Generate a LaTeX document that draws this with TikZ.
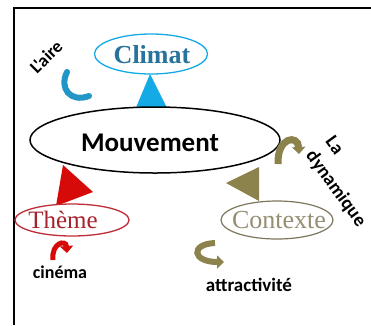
\documentclass[tikz,border=0pt]{standalone}
\usepackage{fontspec}
\setmainfont{Liberation Serif}
\newfontfamily\calfont{Carlito}
\usetikzlibrary{shapes.geometric,arrows.meta}
\definecolor{cblue}{RGB}{20,170,230}
\definecolor{cbluetext}{RGB}{40,115,155}
\definecolor{chook}{RGB}{35,150,200}
\definecolor{cred}{RGB}{215,10,10}
\definecolor{credtext}{RGB}{165,35,45}
\definecolor{credline}{RGB}{190,45,55}
\definecolor{colive}{RGB}{140,130,75}
\definecolor{coltext}{RGB}{150,142,115}
\definecolor{coline}{RGB}{125,118,92}
\begin{document}
\begin{tikzpicture}[x=1pt,y=-1pt,
  oval/.style={ellipse,draw,fill=white,inner sep=0pt},
  serif/.style={anchor=base,inner sep=0pt,font=\fontsize{26}{28}\selectfont},
  lab/.style={inner sep=0pt,font=\calfont\bfseries\fontsize{18}{20}\selectfont},
  hook/.style={line width=6pt},
  tip/.style={-{Triangle[length=7pt,width=13pt]}}]
\useasboundingbox (0,0) rectangle (371,325);
\fill[white] (0,0) rectangle (371,325);
\draw[line width=2pt] (14,325) -- (14,8) -- (371,8);

% triangles (connectors)
\fill[cblue] (150,74) -- (135,110) -- (168,110) -- cycle;
\fill[cred] (63,165) -- (56,206) -- (93,192) -- cycle;
\fill[colive] (259,167) -- (226,183) -- (259,201) -- cycle;

% ellipses
\node[oval,line width=1.5pt,minimum width=250pt,minimum height=66pt] (mouv) at (155,140) {};
\node[oval,draw=cblue,line width=1.3pt,minimum width=113pt,minimum height=40pt] (clim) at (151,54) {};
\node[oval,draw=credline,line width=1.3pt,minimum width=114pt,minimum height=32pt] (theme) at (72,220) {};
\node[oval,draw=coline,line width=1.2pt,minimum width=112pt,minimum height=38pt] (ctx) at (277,220) {};

% texts
\node[anchor=base,inner sep=0pt,font=\calfont\bfseries\fontsize{27}{30}\selectfont] (tmouv) at (150,151) {Mouvement};
\node[serif,text=cbluetext,font=\bfseries\fontsize{26}{28}\selectfont] (tclim) at (152,63) {Climat};
\node[serif,text=credtext,font=\fontsize{25}{28}\selectfont] (tthm) at (63,228) {Thème};
\node[serif,text=coltext] (tctx) at (279,228) {Contexte};

\node[lab,anchor=base] (cin) at (60,278) {cinéma};
\node[lab,anchor=base,font=\calfont\bfseries\fontsize{19}{20}\selectfont] (attr) at (249,291) {attractivité};
\node[lab,rotate=45] (aire) at (46,57) {L'aire};
\node[lab,rotate=-54,align=left,font=\calfont\bfseries\fontsize{19}{24}\selectfont] (dyn) at (345,182) {La\\dynamique};

% hooks
\draw[hook,chook,line cap=round] (67,72) .. controls (59,88) and (70,103) .. (89,96);
\draw[hook,cred,line width=5pt,tip] (53,260) .. controls (51,243) and (66,239) .. (67,253);
\draw[hook,colive,line width=7pt,tip] (278,164) .. controls (277,137) and (298,134) .. (299,154);
\draw[hook,colive,tip] (215,243) .. controls (190,244) and (192,262) .. (224,262);
\end{tikzpicture}
\end{document}
